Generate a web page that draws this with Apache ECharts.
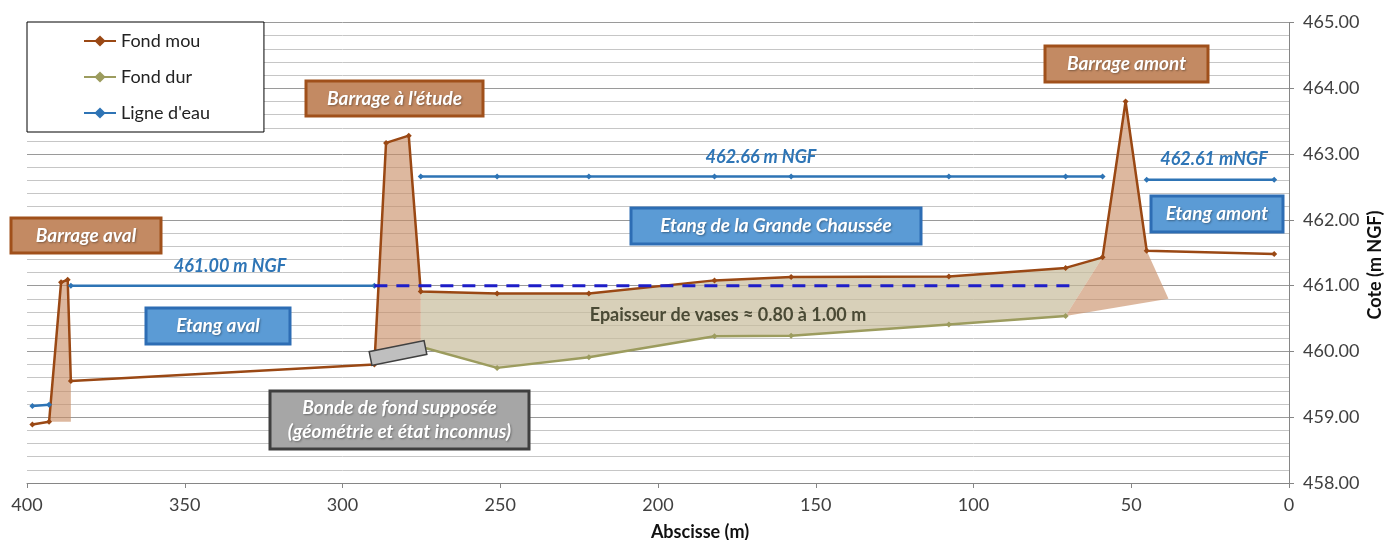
<!DOCTYPE html>
<html>
<head>
<meta charset="utf-8">
<script src="https://cdn.jsdelivr.net/npm/echarts@6.0.0/dist/echarts.min.js"></script>
<style>
  html, body { margin: 0; padding: 0; background: #fff; }
  #chart { width: 1384px; height: 540px; }
</style>
</head>
<body>
<div id="chart"></div>
<script>
// profil en long - abscisse (m) / cote (m NGF)
const fondMou = [
  [398.3, 458.89], [393.0, 458.93], [389.2, 461.05], [387.1, 461.09], [386.1, 459.55],
  [289.9, 459.80], [286.2, 463.17], [279.0, 463.28], [275.2, 460.91], [251.0, 460.88],
  [221.9, 460.88], [182.1, 461.08], [157.8, 461.13], [107.8, 461.14], [70.8, 461.27],
  [59.1, 461.43], [51.8, 463.80], [45.1, 461.53], [4.7, 461.48]
]
const fondDur = [
  [275.2, 460.07], [251.0, 459.75], [221.9, 459.91], [182.1, 460.23],
  [157.8, 460.24], [107.8, 460.41], [70.8, 460.54]
]
const eauAval0 = [[398.3, 459.17], [393.0, 459.19]]
const eauAval = [[386.1, 461.00], [289.9, 461.00]]
const eauEtang = [
  [275.2, 462.66], [251.0, 462.66], [221.9, 462.66], [182.1, 462.66],
  [157.8, 462.66], [107.8, 462.66], [70.8, 462.66], [59.1, 462.66]
]
const eauAmont = [[45.1, 462.61], [4.7, 462.61]]
const niveau461 = [[289.9, 461.00], [68.4, 461.00]]

// emprises des barrages (remplissage)
const digueAval = [[393.0, 458.93], [389.2, 461.05], [387.1, 461.09], [386.1, 459.55], [386.1, 458.93]]
const digueEtude = [[289.9, 459.80], [286.2, 463.17], [279.0, 463.28], [275.2, 460.91], [275.2, 460.07]]
const digueAmont = [[70.8, 460.54], [59.1, 461.43], [51.8, 463.80], [45.1, 461.53], [38.2, 460.80]]

// vases : entre fond mou et fond dur
const vaseHaut = fondMou.slice(8, 16)
const vases = vaseHaut.concat(fondDur.slice().reverse())

const xTicks = { min: 0, max: 400, interval: 50 }
const yTicks = { min: 458, max: 465, interval: 1 }

const FONT = 'Lato, "Open Sans", sans-serif'
const BROWN = '#9A4814'
const OLIVE = '#9C9C5E'
const BLUE = '#2E74B5'

const chart = echarts.init(document.getElementById('chart'))

function zone(pts, color, z) {
  return {
    type: 'custom',
    silent: true,
    z: z,
    data: [0],
    renderItem: function (params, api) {
      return {
        type: 'polygon',
        shape: { points: pts.map(function (p) { return api.coord(p) }) },
        style: { fill: color }
      }
    }
  }
}

function ligne(name, data, color, extra) {
  return Object.assign({
    type: 'line',
    name: name,
    data: data,
    z: 5,
    symbol: 'diamond',
    symbolSize: 6,
    lineStyle: { color: color, width: 2.5 },
    itemStyle: { color: color },
    animation: false
  }, extra || {})
}

// encadrés
const cadres = [
  { text: 'Barrage aval', x: 11, y: 218, w: 150, h: 35, fill: '#C38A63', stroke: '#A0501B' },
  { text: "Barrage à l'étude", x: 306, y: 81, w: 177, h: 35, fill: '#C38A63', stroke: '#A0501B' },
  { text: 'Barrage amont', x: 1045, y: 46, w: 163, h: 36, fill: '#C38A63', stroke: '#A0501B' },
  { text: 'Etang aval', x: 146, y: 308, w: 144, h: 36, fill: '#5B9BD5', stroke: '#2D6DB4' },
  { text: 'Etang de la Grande Chaussée', x: 631, y: 208, w: 290, h: 36, fill: '#5B9BD5', stroke: '#2D6DB4' },
  { text: 'Etang amont', x: 1151, y: 196, w: 132, h: 36, fill: '#5B9BD5', stroke: '#2D6DB4' },
  { text: 'Bonde de fond supposée\n(géométrie et état inconnus)', x: 270, y: 391, w: 259, h: 58, fill: '#A6A6A6', stroke: '#3F3F3F' }
]

const cotes = [
  { text: '461.00 m NGF', x: 230, y: 266 },
  { text: '462.66 m NGF', x: 761, y: 157 },
  { text: '462.61 mNGF', x: 1214, y: 159 }
]

const graphic = []
cadres.forEach(function (c) {
  graphic.push({
    type: 'rect', z: 20,
    shape: { x: c.x, y: c.y, width: c.w, height: c.h },
    style: { fill: c.fill, stroke: c.stroke, lineWidth: 3 }
  })
  graphic.push({
    type: 'text', z: 21,
    x: c.x + c.w / 2, y: c.y + c.h / 2,
    style: {
      text: c.text, fill: '#fff', font: 'italic bold 19px ' + FONT,
      align: 'center', verticalAlign: 'middle', lineHeight: 24,
      textShadowColor: 'rgba(0,0,0,0.35)', textShadowBlur: 2, textShadowOffsetX: 1, textShadowOffsetY: 1
    }
  })
})
cotes.forEach(function (c) {
  graphic.push({
    type: 'text', z: 21, x: c.x, y: c.y,
    style: { text: c.text, fill: '#2E75B6', font: 'italic bold 18px ' + FONT, align: 'center', verticalAlign: 'middle' }
  })
})
graphic.push({
  type: 'text', z: 21, x: 728, y: 315,
  style: { text: 'Epaisseur de vases ≈ 0.80 à 1.00 m', fill: '#4A4A35', font: 'bold 18px ' + FONT, align: 'center', verticalAlign: 'middle' }
})
// titres des axes
graphic.push({
  type: 'text', z: 21, x: 700, y: 532,
  style: { text: 'Abscisse (m)', fill: '#111', font: 'bold 18px ' + FONT, align: 'center', verticalAlign: 'middle' }
})
graphic.push({
  type: 'text', z: 21, x: 1375, y: 265, rotation: Math.PI / 2,
  style: { text: 'Cote (m NGF)', fill: '#111', font: 'bold 18px ' + FONT, align: 'center', verticalAlign: 'middle' }
})
// bonde de fond (schéma)
graphic.push({
  type: 'rect', z: 19, x: 398, y: 353, rotation: 0.2,
  shape: { x: -28, y: -7, width: 56, height: 14 },
  style: { fill: '#BFBFBF', stroke: '#404040', lineWidth: 1.5 }
})

chart.setOption({
  animation: false,
  textStyle: { fontFamily: FONT },
  grid: { left: 27, right: 95, top: 22.5, bottom: 57, outerBoundsMode: 'none' },
  legend: {
    data: ['Fond mou', 'Fond dur', "Ligne d'eau"],
    orient: 'vertical',
    left: 27, top: 22,
    padding: [10, 54, 10, 56],
    itemWidth: 32, itemHeight: 14, itemGap: 18,
    backgroundColor: '#fff', borderColor: '#000', borderWidth: 1,
    textStyle: { fontSize: 18, color: '#222', fontFamily: FONT },
    z: 30
  },
  xAxis: {
    type: 'value', inverse: true,
    min: xTicks.min, max: xTicks.max, interval: xTicks.interval,
    axisLine: { lineStyle: { color: '#868686' } },
    axisTick: { show: true, length: 5, lineStyle: { color: '#868686' } },
    axisLabel: { fontSize: 18, color: '#404040', margin: 13 },
    splitLine: { show: false }
  },
  yAxis: {
    type: 'value', position: 'right',
    min: yTicks.min, max: yTicks.max, interval: yTicks.interval,
    axisLine: { show: true, lineStyle: { color: '#868686' } },
    axisTick: { show: true, length: 5, lineStyle: { color: '#868686' } },
    axisLabel: { fontSize: 18, color: '#404040', margin: 14, formatter: function (v) { return v.toFixed(2) } },
    splitLine: { show: true, lineStyle: { color: '#9A9A9A', width: 1 } },
    minorTick: { show: false, splitNumber: 5 },
    minorSplitLine: { show: true, lineStyle: { color: '#C6C6C6', width: 1 } }
  },
  graphic: graphic,
  series: [
    zone(vases, 'rgba(200,188,155,0.7)', 1),
    zone(digueAval, 'rgba(200,140,100,0.62)', 2),
    zone(digueEtude, 'rgba(200,140,100,0.62)', 2),
    zone(digueAmont, 'rgba(200,140,100,0.62)', 2),
    ligne('Fond mou', fondMou, BROWN),
    ligne('Fond dur', fondDur, OLIVE),
    ligne("Ligne d'eau", eauAval0, BLUE),
    ligne("Ligne d'eau", eauAval, BLUE),
    ligne("Ligne d'eau", eauEtang, BLUE),
    ligne("Ligne d'eau", eauAmont, BLUE),
    ligne('niveau', niveau461, '#1E1EC8', { symbol: 'none', z: 6, lineStyle: { color: '#1E1EC8', width: 3, type: [13, 9] } })
  ]
})
</script>
</body>
</html>
